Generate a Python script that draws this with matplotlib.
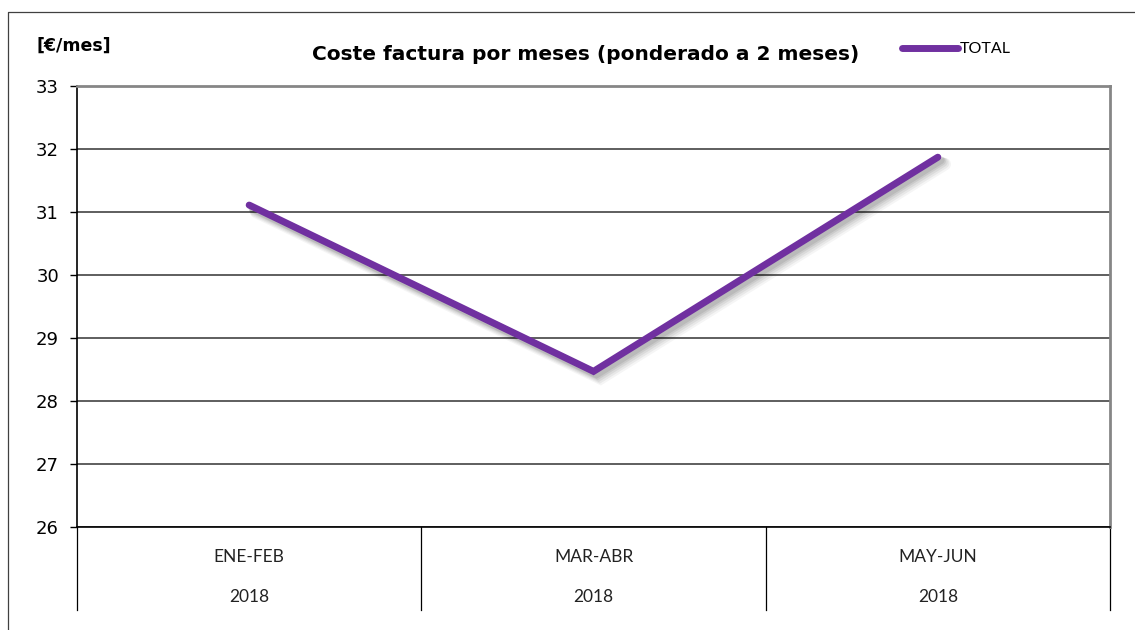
import matplotlib
matplotlib.use("Agg")
import matplotlib.pyplot as plt
import matplotlib.patheffects as pe
from matplotlib.lines import Line2D
import matplotlib.transforms as mtransforms

# datos
periodos = ["ENE-FEB", "MAR-ABR", "MAY-JUN"]
anios = ["2018", "2018", "2018"]
total = [31.11, 28.47, 31.87]
yticks = [26, 27, 28, 29, 30, 31, 32, 33]

morado = "#7030A0"

W, H = 1135, 630
fig = plt.figure(figsize=(W / 100, H / 100), dpi=100)
ax = fig.add_axes([77 / W, 1 - 527 / H, 1033 / W, 441 / H])

x = range(len(periodos))

# sombra difusa: varias capas desplazadas y mas anchas
sombra = []
for off, a, ancho in [(7, 0.04, 9), (6, 0.05, 8), (5, 0.06, 7), (4, 0.07, 6),
                      (3, 0.08, 5.5)]:
    sombra.append(pe.Stroke(offset=(off * 0.72, -off * 0.72), linewidth=ancho,
                            foreground="black", alpha=a))
sombra.append(pe.Normal())
ax.plot(x, total, color=morado, lw=5.0, solid_capstyle="round",
        solid_joinstyle="miter", path_effects=sombra, zorder=5)

ax.set_xlim(-0.5, 2.5)
ax.set_ylim(26, 33)
ax.set_yticks(yticks)
ax.set_xticks([])
ax.yaxis.grid(True, color="#333333", lw=1.1)
ax.set_axisbelow(True)
ax.tick_params(axis="y", direction="out", length=5, width=1, color="black",
               pad=8, labelsize=13)
for lab in ax.get_yticklabels():
    lab.set_fontfamily("DejaVu Sans")

ax.spines["left"].set_color("black")
ax.spines["left"].set_linewidth(1.2)
ax.spines["bottom"].set_color("black")
ax.spines["bottom"].set_linewidth(1.2)
ax.spines["top"].set_color("#868686")
ax.spines["top"].set_linewidth(2)
ax.spines["right"].set_color("#868686")
ax.spines["right"].set_linewidth(2)

# eje de categorias de dos niveles
trans = mtransforms.blended_transform_factory(ax.transData, ax.transAxes)
fondo = -(610 - 527) / 441
for xs in [-0.5, 0.5, 1.5, 2.5]:
    ax.add_line(Line2D([xs, xs], [0, fondo], transform=trans, color="black",
                       lw=0.9, clip_on=False))
for i, (p, a) in enumerate(zip(periodos, anios)):
    ax.text(i, -(557 - 527) / 441, p, transform=trans, ha="center", va="center",
            fontsize=12.5, family="Lato", color="#222222")
    ax.text(i, -(597 - 527) / 441, a, transform=trans, ha="center", va="center",
            fontsize=12.5, family="Lato", color="#222222")

# titulo y unidades
fig.text(586 / W, 1 - 55 / H, "Coste factura por meses (ponderado a 2 meses)",
         ha="center", va="center", fontsize=14.5, fontweight="bold",
         family="DejaVu Sans")
fig.text(37 / W, 1 - 46 / H, "[€/mes]", ha="left", va="center", fontsize=12.5,
         fontweight="bold", family="DejaVu Sans")

# leyenda
h = Line2D([], [], color=morado, lw=5.0, solid_capstyle="round")
fig.legend([h], ["TOTAL"], loc="center left",
           bbox_to_anchor=(902 / W, 1 - 49 / H), frameon=False, borderpad=0,
           borderaxespad=0, handlelength=3.5, handletextpad=0.1,
           prop={"family": "Lato", "size": 11.5})

# marco exterior
fig.add_artist(Line2D([8 / W, 8 / W, 1], [0, 1 - 12 / H, 1 - 12 / H],
                      transform=fig.transFigure, color="#404040", lw=0.9))

fig.savefig("out.png", dpi=100)
